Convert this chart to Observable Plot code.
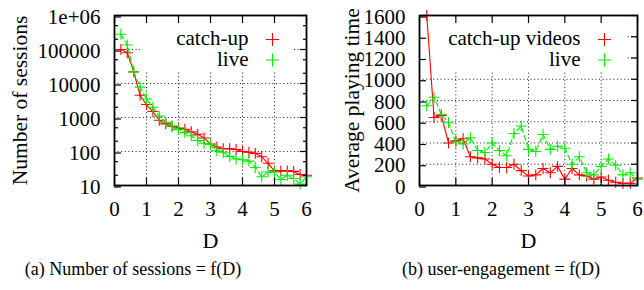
<!DOCTYPE html>
<html><head><meta charset="utf-8">
<script src="https://cdn.jsdelivr.net/npm/d3@7"></script>
<script src="https://cdn.jsdelivr.net/npm/@observablehq/plot@0.6"></script>
<style>
html,body{margin:0;padding:0;background:#fff;}
#wrap{position:relative;width:644px;height:290px;overflow:hidden;font-family:"Liberation Serif","Times New Roman",serif;}
#a,#b{position:absolute;top:0;width:322px;height:250px;}
#a{left:0}#b{left:322px}
.cap{position:absolute;top:260px;font-size:18px;line-height:18px;white-space:nowrap;transform:translateX(-50%);color:#000;}
</style></head><body>
<div id="wrap"><div id="a"></div><div id="b"></div>
<div class="cap" id="capA" style="left:133px"></div>
<div class="cap" id="capB" style="left:501px"></div></div>
<script>
const D = [0.2,0.4,0.6,0.8,1.0,1.2,1.4,1.6,1.8,2.0,2.2,2.4,2.6,2.8,3.0,3.2,3.4,3.6,3.8,4.0,4.2,4.4,4.6,4.8,5.0,5.2,5.4,5.6,5.8,6.0];
const sessionsCatchup = [100000,80000,22000,4500,2400,1500,830,650,550,490,450,380,320,250,165,135,120,120,115,100,95,88,70,45,27,27,27,26,21,20];
const sessionsLive = [280000,135000,22000,7800,3500,2000,1100,720,560,440,360,290,210,175,160,105,95,72,60,57,52,34,18,25,25,15,20,16,11,18];
const playCatchup = [1600,640,660,400,420,440,270,260,250,200,170,170,200,140,90,100,160,120,180,60,160,100,90,60,80,50,30,20,20,70];
const playLive = [750,830,670,590,410,390,450,330,310,400,330,280,490,560,340,320,480,340,370,350,200,270,120,100,180,250,190,100,120,60];
const xTicks = [0,1,2,3,4,5,6];
const xGrid = [1,2,3,4,5];
const sessionTicks = [10,100,1000,10000,100000,1000000];
const sessionTickLabels = ["10","100","1000","10000","100000","1e+06"];
const sessionMinor = [20,50,200,500,2000,5000,20000,50000,200000,500000];
const sessionGrid = [100,1000,10000,100000];
const playTicks = [0,200,400,600,800,1000,1200,1400,1600];
const playGrid = [200,400,600,800,1000,1200,1400];
const legendA = ["catch-up","live"];
const legendB = ["catch-up videos","live"];
const colors = ["#ff0000","#00ee00"];
const dashes = [null,"5,3"];
const captionA = "(a) Number of sessions = f(D)";
const captionB = "(b) user-engagement = f(D)";
const xLabel = "D";
const yLabelA = "Number of sessions";
const yLabelB = "Average playing time";

const FONT = "Liberation Serif, Times New Roman, serif";
const SVGNS = "http://www.w3.org/2000/svg";

function box(x0, y0, x1, y1) {
  return () => {
    const r = document.createElementNS(SVGNS, "rect");
    r.setAttribute("x", x0); r.setAttribute("y", y0);
    r.setAttribute("width", x1 - x0); r.setAttribute("height", y1 - y0);
    r.setAttribute("fill", "white");
    return r;
  };
}

function panel(o) {
  const mt = 15, mb = 65;
  const series = o.series.map((vals, s) => D.map((d, i) => ({x: d, y: vals[i], s})));
  const blank = () => "";
  const marks = [
    Plot.gridX(xGrid, {stroke: "#000", strokeOpacity: 0.9, strokeWidth: 1, strokeDasharray: "1,2.6"}),
    Plot.gridY(o.grid, {stroke: "#000", strokeOpacity: 0.9, strokeWidth: 1, strokeDasharray: "1,2.6"}),
    box(o.box[0], o.box[1], o.box[2], o.box[3]),
    series.map((data, s) => [
      Plot.line(data, {x: "x", y: "y", stroke: colors[s], strokeWidth: 1.1, strokeDasharray: dashes[s]}),
      Plot.dot(data, {x: "x", y: "y", symbol: "plus", r: 3.6, stroke: colors[s], strokeWidth: 1.1})
    ]),
    o.legend.map((t, i) => [
      Plot.text([t], {text: d => d, frameAnchor: "top-left", dx: o.legendX - o.ml, dy: [44, 65][i] - mt,
        textAnchor: "end", lineAnchor: "bottom", fontSize: 21, fontFamily: FONT, fill: "#000"}),
      Plot.dot([t], {frameAnchor: "top-left", dx: o.legendX - o.ml + 24, dy: [39, 59.5][i] - mt,
        symbol: "plus", r: 4.3, stroke: colors[i], strokeWidth: 1.1})
    ]),
    Plot.frame({stroke: "#000", strokeWidth: 1.8}),
    Plot.axisX(xTicks, {anchor: "bottom", tickSize: -7, tickPadding: 23, fontSize: 21, fontFamily: FONT, label: null, strokeWidth: 1.2}),
    Plot.axisX(xTicks, {anchor: "top", tickSize: -7, tickFormat: blank, label: null, strokeWidth: 1.2}),
    Plot.axisY(o.ticks, {anchor: "left", tickSize: -7, tickPadding: 21, tickFormat: o.tickFormat, dy: 1.5, fontSize: 21, fontFamily: FONT, label: null, strokeWidth: 1.2}),
    Plot.axisY(o.ticks, {anchor: "right", tickSize: -7, tickFormat: blank, label: null, strokeWidth: 1.2}),
    o.minor ? [
      Plot.axisY(o.minor, {anchor: "left", tickSize: -4, tickFormat: blank, label: null, strokeWidth: 1.2}),
      Plot.axisY(o.minor, {anchor: "right", tickSize: -4, tickFormat: blank, label: null, strokeWidth: 1.2})
    ] : [],
    Plot.text([xLabel], {text: d => d, frameAnchor: "bottom", dy: 62.5, lineAnchor: "bottom", fontSize: 22, fontFamily: FONT, fill: "#000"}),
    Plot.text([o.yLabel], {text: d => d, frameAnchor: "left", rotate: -90, dx: o.yLabelX - o.ml, textAnchor: "middle", lineAnchor: "bottom", fontSize: 21.5, fontFamily: FONT, fill: "#000"})
  ];
  return Plot.plot({
    width: 322, height: 250,
    marginLeft: o.ml, marginRight: o.mr, marginTop: mt, marginBottom: mb,
    x: {domain: [0, 6]},
    y: o.y,
    style: {fontFamily: FONT, fontSize: "21px", background: "white", overflow: "visible", color: "#000"},
    marks
  });
}

const fmtA = d => sessionTickLabels[sessionTicks.indexOf(d)];
document.getElementById("a").appendChild(panel({
  series: [sessionsCatchup, sessionsLive],
  y: {type: "log", domain: [10, 1000000]},
  ticks: sessionTicks, tickFormat: fmtA, minor: sessionMinor, grid: sessionGrid,
  ml: 114, mr: 16, box: [143, 15, 293, 71], legend: legendA, legendX: 248,
  yLabel: yLabelA, yLabelX: 26
}));
document.getElementById("b").appendChild(panel({
  series: [playCatchup, playLive],
  y: {type: "linear", domain: [0, 1600]},
  ticks: playTicks, tickFormat: d => String(d), minor: null, grid: playGrid,
  ml: 97, mr: 7, box: [97, 15, 304, 71], legend: legendB, legendX: 258,
  yLabel: yLabelB, yLabelX: 36.5
}));
document.getElementById("capA").textContent = captionA;
document.getElementById("capB").textContent = captionB;
</script>
</body></html>
